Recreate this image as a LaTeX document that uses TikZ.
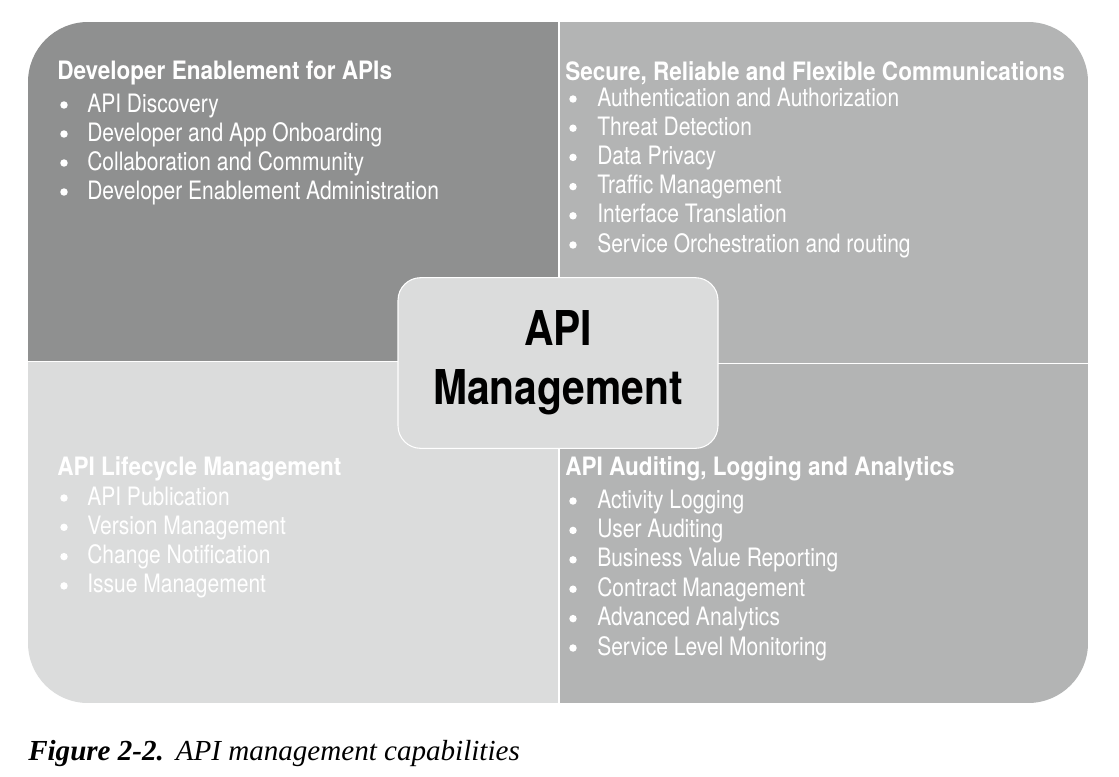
\documentclass[tikz,border=0pt]{standalone}
\usepackage{fontspec}
\setmainfont{TeX Gyre Heros}
\newfontfamily\hdfont{TeX Gyre Heros}[FakeStretch=0.89]
\newfontfamily\itemfont{TeX Gyre Heros}[FakeStretch=0.83]
\newfontfamily\corefont{TeX Gyre Heros}[FakeStretch=0.85]
\newfontfamily\capfont{Liberation Serif}
\usetikzlibrary{positioning}
\definecolor{apidark}{HTML}{8F9090}
\definecolor{apimid}{HTML}{B3B4B4}
\definecolor{apilight}{HTML}{DBDCDC}
\tikzset{
  hd/.style={anchor=base west, inner sep=0pt, text=white, font=\hdfont\bfseries\fontsize{19}{21}\selectfont},
  itm/.style={anchor=base west, inner sep=0pt, text=white, font=\itemfont\fontsize{19}{21}\selectfont},
  dot/.style={circle, fill=white, inner sep=0pt, minimum size=5.6pt},
  split/.style={draw=white, line width=1.1pt},
  core/.style={rounded corners=17pt, fill=apilight, draw=white, line width=0.8pt,
    minimum width=240pt, minimum height=128pt, align=center, inner sep=0pt,
    font=\corefont\bfseries\fontsize{36}{44}\selectfont},
}
\begin{document}
\begin{tikzpicture}[x=0.75pt, y=-0.75pt]
  \useasboundingbox (0,0) rectangle (1119,776);
  % four quarters
  \begin{scope}
    \clip[rounded corners=45pt] (28,22) rectangle (1088,703);
    \fill[apidark] (28,22) rectangle (559,362);
    \fill[apimid] (559,22) rectangle (1088,364);
    \fill[apilight] (28,362) rectangle (559,703);
    \fill[apimid] (559,364) rectangle (1088,703);
  \end{scope}
  \draw[split] (559,22) -- (559,703);
  \draw[split] (28,361.5) -- (559,361.5);
  \draw[split] (559,363.5) -- (1088,363.5);

  % top left
  \node[hd] (devh) at (57,79) {Developer Enablement for APIs};
  \foreach \t [count=\i] in {API Discovery, Developer and App Onboarding,
      Collaboration and Community, Developer Enablement Administration} {
    \node[itm] (dev\i) at (87,{112+29*(\i-1)}) {\t};
    \node[dot] (devb\i) at (64,{105+29*(\i-1)}) {};
  }
  % top right
  \node[hd] (comh) at (565,80) {Secure, Reliable and Flexible Communications};
  \foreach \t [count=\i] in {Authentication and Authorization, Threat Detection,
      Data Privacy, Traffic Management, Interface Translation,
      Service Orchestration and routing} {
    \node[itm] (com\i) at (597,{106+29.2*(\i-1)}) {\t};
    \node[dot] (comb\i) at (573,{99+29.2*(\i-1)}) {};
  }
  % bottom left
  \node[hd] (lifeh) at (57,475) {API Lifecycle Management};
  \foreach \t [count=\i] in {API Publication, Version Management,
      Change Notification, Issue Management} {
    \node[itm] (life\i) at (87,{505+29.3*(\i-1)}) {\t};
    \node[dot] (lifeb\i) at (64,{498+29.3*(\i-1)}) {};
  }
  % bottom right
  \node[hd] (audh) at (565,475) {API Auditing, Logging and Analytics};
  \foreach \t [count=\i] in {Activity Logging, User Auditing,
      Business Value Reporting, Contract Management, Advanced Analytics,
      Service Level Monitoring} {
    \node[itm] (aud\i) at (597,{508+29.4*(\i-1)}) {\t};
    \node[dot] (audb\i) at (573,{501+29.4*(\i-1)}) {};
  }

  \node[core] (api) at (558,363) {API\\Management};

  \node[anchor=base west, inner sep=0pt, font=\capfont\fontsize{21.8}{24}\selectfont] (cap) at (28,760)
    {\textbf{\textit{Figure 2-2.}}\hspace{9pt}\textit{API management capabilities}};
\end{tikzpicture}
\end{document}
